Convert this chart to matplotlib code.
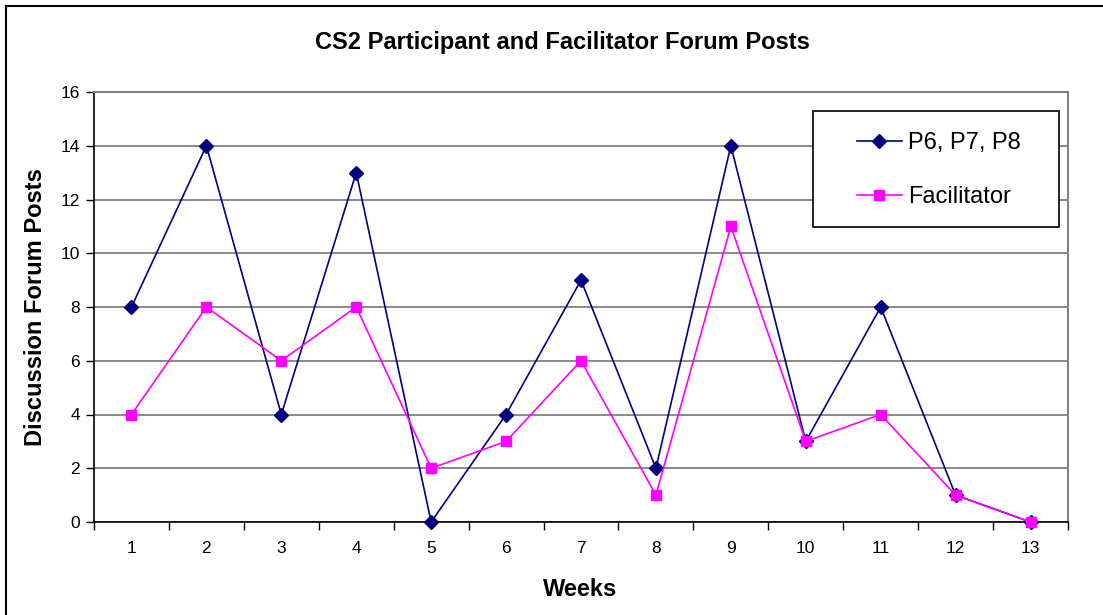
import matplotlib
matplotlib.use("Agg")
import matplotlib.pyplot as plt
from matplotlib.lines import Line2D
from matplotlib.patches import Rectangle

plt.rcParams['font.family'] = ['Liberation Sans', 'DejaVu Sans']

# data
weeks = [1, 2, 3, 4, 5, 6, 7, 8, 9, 10, 11, 12, 13]
participants = [8, 14, 4, 13, 0, 4, 9, 2, 14, 3, 8, 1, 0]
facilitator = [4, 8, 6, 8, 2, 3, 6, 1, 11, 3, 4, 1, 0]
y_ticks = [0, 2, 4, 6, 8, 10, 12, 14, 16]

W, H = 1103, 615
fig = plt.figure(figsize=(W / 100, H / 100), dpi=100)
ax = fig.add_axes([94 / W, 1 - 522 / H, (1068 - 94) / W, (522 - 92) / H])

ax.plot(weeks, participants, color="#000080", marker="D", markersize=7,
        linewidth=1.2, label="P6, P7, P8", zorder=4, clip_on=False)
ax.plot(weeks, facilitator, color="#FF00FF", marker="s", markersize=7,
        linewidth=1.2, label="Facilitator", zorder=4, clip_on=False)

ax.set_xlim(0.5, len(weeks) + 0.5)
ax.set_ylim(0, 16)
ax.set_yticks(y_ticks)
ax.set_yticklabels([str(v) for v in y_ticks], fontsize=12.5)
ax.yaxis.grid(True, color="#808080", linewidth=1.3)
ax.set_axisbelow(True)

# category boundaries carry the ticks, labels sit in the middle
ax.set_xticks([w - 0.5 for w in weeks] + [weeks[-1] + 0.5])
ax.set_xticklabels([])
ax.set_xticks(weeks, minor=True)
ax.set_xticklabels([str(w) for w in weeks], minor=True, fontsize=12.5)
ax.tick_params(axis="x", which="minor", length=0, pad=14)
ax.tick_params(axis="x", which="major", length=6, width=1, direction="out")
ax.tick_params(axis="y", length=6, width=1, direction="out", pad=4)

for side in ["top", "right"]:
    ax.spines[side].set_color("#808080")
    ax.spines[side].set_linewidth(1.5)
ax.spines["left"].set_linewidth(1.2)
ax.spines["bottom"].set_linewidth(1.2)

fig.text(0.51, 1 - 43 / H, "CS2 Participant and Facilitator Forum Posts",
         ha="center", va="center", fontsize=17, fontweight="bold")
fig.text(580 / W, 1 - 589 / H, "Weeks", ha="center", va="center",
         fontsize=17, fontweight="bold")
fig.text(35 / W, 1 - 307 / H, "Discussion Forum Posts", ha="center",
         va="center", rotation=90, fontsize=17, fontweight="bold")

# legend box
box = Rectangle(((813 - 94) / 974, (522 - 227) / 430), (1059 - 813) / 974,
                (227 - 111) / 430, transform=ax.transAxes, facecolor="white",
                edgecolor="black", linewidth=1.2, zorder=5)
ax.add_patch(box)
leg = ax.legend(loc="center left", bbox_to_anchor=((857 - 94) / 974, (522 - 170) / 430),
                frameon=False, fontsize=17, borderpad=0, borderaxespad=0,
                handlelength=1.9, handletextpad=0.25, labelspacing=1.35)
leg.set_zorder(6)
for h in leg.legend_handles:
    h.set_markersize(7)

# outer chart frame (left and top edges are visible)
fig.add_artist(Line2D([6 / W, 6 / W], [0, 1 - 6 / H], transform=fig.transFigure,
                      color="black", linewidth=1.5))
fig.add_artist(Line2D([6 / W, 1], [1 - 6 / H, 1 - 6 / H], transform=fig.transFigure,
                      color="black", linewidth=1.5))

fig.savefig("out.png", dpi=100)
